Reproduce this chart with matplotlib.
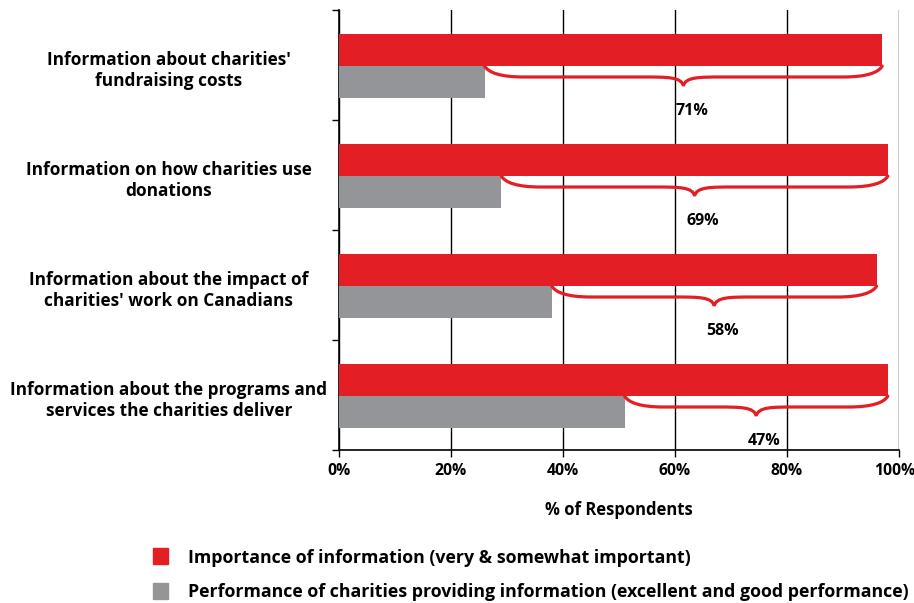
import matplotlib.pyplot as plt
from matplotlib.path import Path
from matplotlib.patches import PathPatch, Patch

plt.rcParams['font.family'] = ['Open Sans', 'DejaVu Sans']
plt.rcParams['font.weight'] = 'bold'

categories = [
    "Information about charities'\nfundraising costs",
    "Information on how charities use\ndonations",
    "Information about the impact of\ncharities' work on Canadians",
    "Information about the programs and\nservices the charities deliver",
]
importance = [97, 98, 96, 98]
performance = [26, 29, 38, 51]
xticks = [0, 20, 40, 60, 80, 100]
legend_labels = [
    "Importance of information (very & somewhat important)",
    "Performance of charities providing information (excellent and good performance)",
]

RED = '#e31e24'
GRAY = '#939598'


def brace(ax, x0, x1, y, depth, color):
    # horizontal curly brace hanging below y, pointing down at the middle
    xm = (x0 + x1) / 2
    q = min(7.0, (x1 - x0) / 5)
    mid = y + depth * 0.55
    tip = y + depth
    verts = [
        (x0, y),
        (x0 + q * 0.1, mid * 0.6 + y * 0.4), (x0 + q * 0.4, mid), (x0 + q, mid),
        (xm - q, mid),
        (xm - q * 0.4, mid), (xm - q * 0.05, mid), (xm, tip),
        (xm + q * 0.05, mid), (xm + q * 0.4, mid), (xm + q, mid),
        (x1 - q, mid),
        (x1 - q * 0.4, mid), (x1 - q * 0.1, mid * 0.6 + y * 0.4), (x1, y),
    ]
    codes = ([Path.MOVETO] + [Path.CURVE4] * 3 + [Path.LINETO] + [Path.CURVE4] * 3
             + [Path.CURVE4] * 3 + [Path.LINETO] + [Path.CURVE4] * 3)
    ax.add_patch(PathPatch(Path(verts, codes), fill=False, edgecolor=color,
                           linewidth=2.3, capstyle='round', zorder=4))


fig = plt.figure(figsize=(9.14, 6.03), dpi=100)
ax = fig.add_axes([0.3709, 0.2537, 0.6127, 0.7297])

bar_h = 0.29
centers = [i + 0.51 for i in range(len(categories))]
ax.barh([c - bar_h / 2 for c in centers], importance, height=bar_h,
        color=RED, zorder=3)
ax.barh([c + bar_h / 2 for c in centers], performance, height=bar_h,
        color=GRAY, zorder=3)

for i, c in enumerate(centers):
    gap = importance[i] - performance[i]
    brace(ax, performance[i], importance[i], c, 0.18, RED)
    ax.text((performance[i] + importance[i]) / 2 + 1.5, i + 0.92, f"{gap}%",
            ha='center', va='center', fontsize=11.5, fontweight='bold', zorder=5)
    ax.text(-0.304, i + 0.55, categories[i], transform=ax.get_yaxis_transform(),
            ha='center', va='center', fontsize=12.4, fontweight='bold',
            linespacing=1.25)

ax.set_xlim(0, 100)
ax.set_ylim(len(categories), 0)
ax.set_xticks(xticks)
# the 100% label is placed by hand, nudged left so it stays on the canvas
ax.set_xticklabels([f"{t}%" for t in xticks[:-1]] + [""], fontsize=11.3, fontweight='bold')
ax.annotate(f"{xticks[-1]}%", xy=(xticks[-1], 0), xycoords=('data', 'axes fraction'),
            xytext=(-3, -9.5), textcoords='offset points', ha='center', va='top',
            fontsize=11.3, fontweight='bold', annotation_clip=False)
ax.set_yticks(range(len(categories) + 1))
ax.set_yticklabels([])
ax.tick_params(axis='both', direction='out', length=5, width=1, color='black')
ax.tick_params(axis='x', pad=4.5)
ax.grid(axis='x', color='black', linewidth=1, zorder=0)
for side in ['top', 'right']:
    ax.spines[side].set_visible(False)
for side in ['left', 'bottom']:
    ax.spines[side].set_color('black')
    ax.spines[side].set_linewidth(1.2)
ax.set_xlabel("% of Respondents", fontsize=12, fontweight='bold', labelpad=16)

handles = [Patch(color=RED), Patch(color=GRAY)]
fig.legend(handles, legend_labels, loc='lower left', bbox_to_anchor=(0.150, -0.024),
           frameon=False, handlelength=0.85, handleheight=1.0,
           handletextpad=1.1, labelspacing=0.95, prop={'weight': 'bold', 'size': 12.8})

fig.savefig('out.png', dpi=100)
